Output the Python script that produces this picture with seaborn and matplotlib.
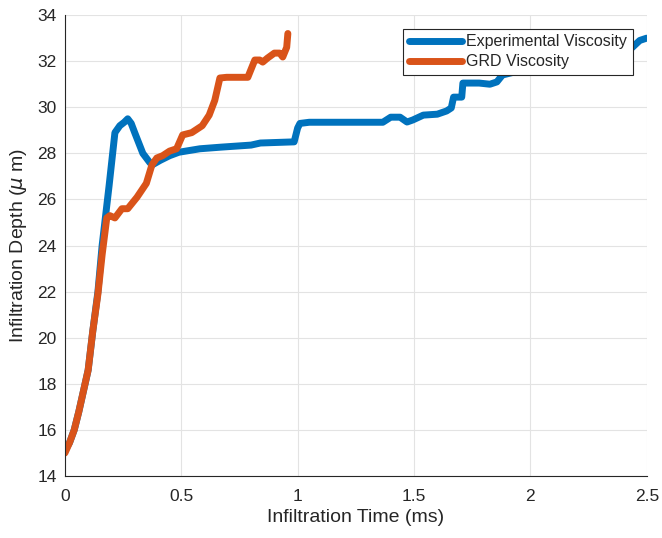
import matplotlib
matplotlib.use("Agg")
import matplotlib.pyplot as plt
import seaborn as sns
import pandas as pd

# Infiltration depth (um) versus time (ms)
exp_time = [0, 0.02, 0.04, 0.06, 0.08, 0.10, 0.12, 0.142, 0.16, 0.19, 0.215, 0.236,
            0.255, 0.27, 0.285, 0.30, 0.335, 0.365, 0.375, 0.41, 0.45, 0.49, 0.58,
            0.67, 0.80, 0.84, 0.985, 1.0, 1.01, 1.05, 1.366, 1.40, 1.44, 1.47, 1.495,
            1.54, 1.60, 1.64, 1.66, 1.67, 1.705, 1.71, 1.78, 1.826, 1.856, 1.88,
            2.0, 2.2, 2.4, 2.435, 2.47, 2.5]
exp_depth = [15.1, 15.45, 16.0, 16.8, 17.7, 18.6, 20.3, 22.0, 24.0, 26.6, 28.9, 29.2,
             29.35, 29.5, 29.3, 28.9, 28.0, 27.6, 27.5, 27.7, 27.9, 28.05, 28.2,
             28.27, 28.36, 28.45, 28.5, 29.1, 29.3, 29.35, 29.35, 29.57, 29.57, 29.36,
             29.45, 29.66, 29.7, 29.84, 29.97, 30.44, 30.44, 31.05, 31.05, 31.0, 31.1,
             31.4, 31.7, 32.1, 32.4, 32.57, 32.9, 33.0]

grd_time = [0, 0.02, 0.04, 0.06, 0.08, 0.10, 0.12, 0.142, 0.16, 0.18, 0.193, 0.215,
            0.245, 0.27, 0.31, 0.35, 0.374, 0.395, 0.42, 0.45, 0.48, 0.506, 0.545,
            0.59, 0.62, 0.644, 0.666, 0.695, 0.786, 0.816, 0.837, 0.85, 0.87, 0.90,
            0.923, 0.936, 0.953, 0.958]
grd_depth = [15.0, 15.45, 16.0, 16.8, 17.7, 18.6, 20.3, 21.9, 23.6, 25.2, 25.3, 25.2,
             25.6, 25.6, 26.1, 26.7, 27.5, 27.8, 27.9, 28.1, 28.2, 28.8, 28.9, 29.2,
             29.66, 30.3, 31.27, 31.3, 31.3, 32.05, 32.05, 31.96, 32.13, 32.35, 32.35,
             32.18, 32.6, 33.2]

x_ticks = [0, 0.5, 1, 1.5, 2, 2.5]
y_ticks = list(range(14, 35, 2))

exp_df = pd.DataFrame({"time": exp_time, "depth": exp_depth})
grd_df = pd.DataFrame({"time": grd_time, "depth": grd_depth})

sns.set_style("white")
plt.rcParams["font.family"] = ["Liberation Sans", "DejaVu Sans"]

fig = plt.figure(figsize=(6.62, 5.38), dpi=100)
ax = fig.add_axes([0.098, 0.115, 0.879, 0.857])

blue = "#0072BD"
orange = "#D95319"
lw = 5.0
sns.lineplot(data=exp_df, x="time", y="depth", ax=ax, color=blue, lw=lw,
             sort=False, label="Experimental Viscosity")
sns.lineplot(data=grd_df, x="time", y="depth", ax=ax, color=orange, lw=lw,
             sort=False, label="GRD Viscosity")

ax.set_xlim(0, 2.5)
ax.set_ylim(14, 34)
ax.set_xticks(x_ticks)
ax.set_xticklabels([f"{t:g}" for t in x_ticks])
ax.set_yticks(y_ticks)
ax.grid(True, color="#e3e3e3", lw=0.8)
ax.set_axisbelow(True)

for side in ["top", "right"]:
    ax.spines[side].set_visible(False)
for side in ["left", "bottom"]:
    ax.spines[side].set_color("#262626")
    ax.spines[side].set_linewidth(0.8)

ax.tick_params(direction="in", length=4, width=0.8, color="#262626",
               labelsize=12.5, labelcolor="#262626")
ax.tick_params(axis="x", pad=9)
ax.tick_params(axis="y", pad=6)
ax.set_xlabel("Infiltration Time (ms)", fontsize=14, color="#262626", labelpad=4)
ax.set_ylabel(r"Infiltration Depth ($\mu$ m)", fontsize=14, color="#262626",
              labelpad=6)

leg = ax.legend(loc="upper right", bbox_to_anchor=(0.976, 0.970), fontsize=11.5,
                frameon=True, fancybox=False, framealpha=1, handlelength=3.3,
                borderpad=0.35, labelspacing=0.3, handletextpad=0.3,
                borderaxespad=0)
leg.get_frame().set_edgecolor("#262626")
leg.get_frame().set_linewidth(0.8)
for line in leg.get_lines():
    line.set_linewidth(lw)

fig.savefig("out.png", dpi=100)
